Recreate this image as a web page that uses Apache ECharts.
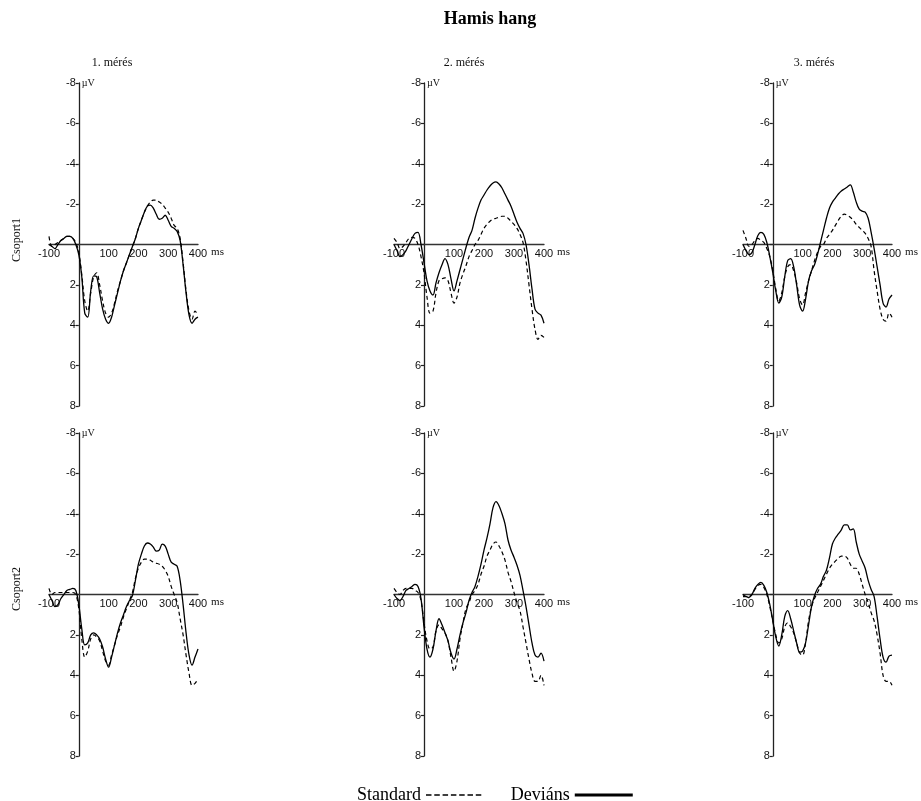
<!DOCTYPE html>
<html>
<head>
<meta charset="utf-8">
<script src="https://cdn.jsdelivr.net/npm/echarts@6/dist/echarts.min.js"></script>
<style>
  html, body { margin: 0; padding: 0; background: #ffffff; }
  #chart { width: 921px; height: 801px; }
</style>
</head>
<body>
<div id="chart"></div>
<script>
// Sampling times (ms), 10 ms apart, from -100 to 400
const times = [-100,-90,-80,-70,-60,-50,-40,-30,-20,-10,
  0,10,20,30,40,50,60,70,80,90,
  100,110,120,130,140,150,160,170,180,190,
  200,210,220,230,240,250,260,270,280,290,
  300,310,320,330,340,350,360,370,380,390,
  400];

// Grand-average amplitudes (µV), one value per sampling time
// Csoport1, 1. mérés
const c1m1Standard = [-0.4,0.1,0.0,-0.1,-0.2,-0.3,-0.4,-0.4,-0.3,-0.1,
  0.4,1.5,2.8,3.3,2.4,1.6,1.4,2.0,2.8,3.4,
  3.6,3.4,2.9,2.3,1.8,1.3,0.9,0.5,0.1,-0.3,
  -0.8,-1.2,-1.6,-1.9,-2.1,-2.2,-2.2,-2.1,-2.0,-1.8,
  -1.6,-1.3,-0.95,-0.8,-0.3,0.9,2.3,3.3,3.7,3.3,
  3.5];
const c1m1Devians = [0.0,0.1,0.2,0.0,-0.2,-0.3,-0.4,-0.4,-0.3,0.0,
  0.5,1.6,3.4,3.6,2.3,1.55,1.6,2.4,3.2,3.7,
  3.9,3.6,3.0,2.4,1.8,1.3,0.9,0.5,0.1,-0.3,
  -0.8,-1.2,-1.6,-1.9,-1.95,-1.8,-1.5,-1.25,-1.3,-1.45,
  -1.2,-0.9,-0.8,-0.65,-0.2,1.0,2.4,3.5,3.9,3.7,
  3.6];

// Csoport1, 2. mérés
const c1m2Standard = [-0.3,-0.1,0.2,0.1,-0.1,-0.3,-0.35,-0.3,0.0,0.6,
  1.4,2.6,3.4,3.3,2.4,1.8,1.7,1.65,1.8,2.4,
  2.9,2.6,1.9,1.45,1.05,0.6,0.3,0.0,-0.2,-0.5,
  -0.8,-1.0,-1.15,-1.25,-1.3,-1.35,-1.4,-1.4,-1.3,-1.15,
  -1.0,-0.8,-0.5,-0.1,0.8,2.0,3.2,4.2,4.7,4.5,
  4.6];
const c1m2Devians = [0.0,0.3,0.6,0.5,0.3,0.0,-0.3,-0.55,-0.6,0.0,
  0.9,1.8,2.3,2.5,1.9,1.4,1.0,0.7,1.0,1.7,
  2.3,1.8,1.25,0.7,0.15,-0.35,-0.7,-1.3,-1.8,-2.2,
  -2.45,-2.7,-2.9,-3.05,-3.1,-3.0,-2.8,-2.5,-2.2,-1.9,
  -1.5,-1.1,-0.8,-0.55,0.0,1.0,2.2,3.2,3.4,3.5,
  3.9];

// Csoport1, 3. mérés
const c1m3Standard = [-0.7,-0.3,0.1,0.0,-0.2,-0.3,-0.2,-0.1,0.2,0.6,
  1.3,2.2,2.8,2.4,1.6,1.1,1.0,1.3,1.9,2.7,
  3.0,2.4,1.8,1.3,0.8,0.4,0.1,0.0,-0.3,-0.5,
  -0.7,-0.95,-1.2,-1.4,-1.5,-1.45,-1.35,-1.2,-1.0,-0.85,
  -0.7,-0.55,-0.3,0.1,1.3,2.3,3.2,3.7,3.8,3.4,
  3.6];
const c1m3Devians = [0.0,0.3,0.5,0.4,0.0,-0.45,-0.6,-0.5,-0.1,0.6,
  1.4,2.3,2.9,2.6,1.6,0.8,0.7,1.1,2.0,3.0,
  3.3,2.7,1.8,1.3,1.0,0.5,-0.1,-0.7,-1.3,-1.8,
  -2.1,-2.3,-2.5,-2.65,-2.75,-2.85,-2.95,-2.6,-2.1,-1.75,
  -1.65,-1.6,-1.3,-0.6,0.2,1.1,2.0,2.9,3.1,2.7,
  2.5];

// Csoport2, 1. mérés
const c2m1Standard = [-0.3,0.0,-0.1,-0.1,-0.1,-0.1,-0.1,-0.1,-0.1,0.0,
  0.7,2.2,3.1,2.8,2.2,2.0,2.1,2.3,2.8,3.3,
  3.5,3.0,2.5,2.0,1.6,1.1,0.7,0.3,-0.1,-0.8,
  -1.3,-1.6,-1.75,-1.75,-1.7,-1.6,-1.55,-1.5,-1.4,-1.2,
  -0.9,-0.4,0.0,0.4,1.2,2.0,3.0,3.9,4.5,4.4,
  4.2];
const c2m1Devians = [0.0,0.3,0.6,0.5,0.2,0.0,-0.2,-0.25,-0.3,-0.2,
  0.5,1.7,2.5,2.4,2.0,1.9,2.0,2.2,2.6,3.2,
  3.6,3.1,2.5,1.9,1.4,1.0,0.6,0.3,0.05,-0.7,
  -1.5,-2.0,-2.4,-2.55,-2.5,-2.35,-2.15,-2.2,-2.5,-2.4,
  -2.0,-1.6,-1.5,-1.4,-0.7,0.5,1.9,3.0,3.5,3.1,
  2.7];

// Csoport2, 2. mérés
const c2m2Standard = [-0.3,-0.1,0.0,-0.2,-0.3,-0.3,-0.3,-0.2,-0.1,0.3,
  1.4,2.3,2.7,2.6,1.8,1.5,1.7,1.9,2.3,3.1,
  3.8,3.3,2.2,1.4,0.7,0.4,0.0,-0.2,-0.5,-1.0,
  -1.4,-1.9,-2.2,-2.5,-2.6,-2.4,-2.1,-1.7,-1.1,-0.65,
  -0.1,0.4,0.8,1.6,2.4,3.2,3.9,4.3,4.3,4.0,
  4.5];
const c2m2Devians = [0.0,0.2,0.3,0.1,-0.2,-0.3,-0.4,-0.5,-0.4,0.2,
  1.6,2.7,3.1,2.7,1.8,1.2,1.5,1.9,2.3,2.9,
  3.2,2.7,2.0,1.4,0.9,0.3,-0.1,-0.4,-0.9,-1.5,
  -2.2,-2.8,-3.5,-4.3,-4.6,-4.4,-4.0,-3.5,-2.7,-2.2,
  -1.85,-1.45,-0.95,-0.2,0.6,1.5,2.4,3.0,3.1,2.9,
  3.3];

// Csoport2, 3. mérés
const c2m3Standard = [0.0,0.1,0.1,0.0,-0.25,-0.45,-0.5,-0.35,0.0,0.6,
  1.3,2.0,2.4,2.2,1.6,1.4,1.6,1.9,2.4,2.9,
  3.0,2.4,1.3,0.6,0.2,-0.1,-0.4,-0.7,-1.0,-1.3,
  -1.5,-1.65,-1.8,-1.9,-1.9,-1.8,-1.5,-1.3,-1.3,-1.0,
  -0.5,0.0,0.4,0.9,1.3,2.0,2.9,4.0,4.3,4.3,
  4.5];
const c2m3Devians = [0.1,0.1,0.15,0.0,-0.3,-0.5,-0.6,-0.45,-0.1,0.5,
  1.3,2.1,2.55,2.0,1.1,0.8,1.2,1.8,2.4,2.85,
  2.8,2.4,1.5,0.6,0.05,-0.3,-0.5,-0.9,-1.2,-1.8,
  -2.5,-2.8,-3.0,-3.2,-3.45,-3.45,-3.2,-3.25,-2.6,-2.0,
  -1.65,-1.3,-0.7,-0.25,0.1,1.1,2.2,3.1,3.35,3.05,
  3.0];

// Axis ranges and labels
const timeTicks = [-100, 0, 100, 200, 300, 400];
const amplitudeTicks = [-8, -6, -4, -2, 0, 2, 4, 6, 8];

const mainTitle = 'Hamis hang';
const sessionTitles = ['1. mérés', '2. mérés', '3. mérés'];
const groupTitles = ['Csoport1', 'Csoport2'];
const conditionNames = ['Standard', 'Deviáns'];

const panelData = [
  [c1m1Standard, c1m1Devians], [c1m2Standard, c1m2Devians], [c1m3Standard, c1m3Devians],
  [c2m1Standard, c2m1Devians], [c2m2Standard, c2m2Devians], [c2m3Standard, c2m3Devians]
];

// Panel placement (pixels): column lefts/widths, row tops
const colLeft = [49, 394, 743];
const colWidth = [149, 150, 149];
const rowTop = [83, 433];
const rowHeight = 323;

const SERIF = '"Liberation Serif", "Times New Roman", serif';
const SANS = '"Liberation Sans", Arial, sans-serif';

const tMin = timeTicks[0], tMax = timeTicks[timeTicks.length - 1];
const aMin = amplitudeTicks[0], aMax = amplitudeTicks[amplitudeTicks.length - 1];

const grids = [], xAxes = [], yAxes = [], series = [];
panelData.forEach((pair, i) => {
  const row = Math.floor(i / 3), col = i % 3;
  const w = colWidth[col];
  grids.push({ left: colLeft[col], top: rowTop[row], width: w, height: rowHeight });
  // the axes cross at t = 0 ms and 0 µV: shift them in from the grid edges
  const yShift = -w * (0 - tMin) / (tMax - tMin);
  const xShift = -rowHeight * (aMax - 0) / (aMax - aMin);
  xAxes.push({
    type: 'value', gridIndex: i, position: 'bottom', offset: xShift,
    min: tMin, max: tMax, interval: 100,
    name: 'ms', nameLocation: 'end', nameGap: 10,
    nameTextStyle: { fontFamily: SERIF, fontSize: 11, color: '#111', align: 'left', verticalAlign: 'top', padding: [2, 0, 0, 0] },
    axisLine: { onZero: false, lineStyle: { color: '#333', width: 1.3 } },
    axisTick: { show: false },
    splitLine: { show: false },
    axisLabel: {
      margin: 4, fontFamily: SANS, fontSize: 11, color: '#111',
      formatter: v => (v === 0 ? '' : String(v))
    }
  });
  yAxes.push({
    type: 'value', gridIndex: i, inverse: true, position: 'left', offset: yShift,
    min: aMin, max: aMax, interval: 2,
    name: 'µV', nameLocation: 'start', nameGap: 0,
    nameTextStyle: { fontFamily: SERIF, fontSize: 10, color: '#111', align: 'left', verticalAlign: 'middle', padding: [4, 0, 0, 3] },
    axisLine: { onZero: false, lineStyle: { color: '#222', width: 1.3 } },
    axisTick: { show: true, length: 3, lineStyle: { color: '#222', width: 1.2 } },
    splitLine: { show: false },
    axisLabel: {
      margin: 3, fontFamily: SANS, fontSize: 11, color: '#111',
      formatter: v => (v === 0 ? '' : String(v))
    }
  });
  series.push({
    name: conditionNames[0], type: 'line', xAxisIndex: i, yAxisIndex: i,
    data: times.map((t, k) => [t, pair[0][k]]),
    symbol: 'none', smooth: 0.35, silent: true,
    lineStyle: { color: '#000', width: 1.2, type: [4, 3] }
  });
  series.push({
    name: conditionNames[1], type: 'line', xAxisIndex: i, yAxisIndex: i,
    data: times.map((t, k) => [t, pair[1][k]]),
    symbol: 'none', smooth: 0.35, silent: true,
    lineStyle: { color: '#000', width: 1.3, type: 'solid' }
  });
});

// Headings drawn as text elements
const texts = [
  { type: 'text', x: 490, y: 19, style: { text: mainTitle, font: 'bold 18px ' + SERIF, fill: '#000', align: 'center', verticalAlign: 'middle' } }
];
const sessionCenters = [112, 464, 814];
sessionTitles.forEach((t, c) => {
  texts.push({ type: 'text', x: sessionCenters[c], y: 63, style: { text: t, font: '12px ' + SERIF, fill: '#111', align: 'center', verticalAlign: 'middle' } });
});
const groupCenters = [240, 589];
groupTitles.forEach((t, r) => {
  texts.push({ type: 'text', x: 17, y: groupCenters[r], rotation: Math.PI / 2, style: { text: t, font: '12px ' + SERIF, fill: '#111', align: 'center', verticalAlign: 'middle' } });
});

const chart = echarts.init(document.getElementById('chart'), null, { renderer: 'canvas' });
chart.setOption({
  animation: false,
  backgroundColor: '#ffffff',
  grid: grids,
  xAxis: xAxes,
  yAxis: yAxes,
  series: series,
  graphic: texts,
  legend: {
    left: 352, top: 781,
    orient: 'horizontal', align: 'right',
    itemWidth: 58, itemHeight: 14, itemGap: 26,
    selectedMode: false,
    textStyle: { fontFamily: SERIF, fontSize: 18, color: '#000' },
    itemStyle: { opacity: 0 },
    data: [
      { name: conditionNames[0], lineStyle: { color: '#000', width: 1.6, type: [5.5, 2.8] } },
      { name: conditionNames[1], lineStyle: { color: '#000', width: 3, type: 'solid' } }
    ]
  }
});
</script>
</body>
</html>
